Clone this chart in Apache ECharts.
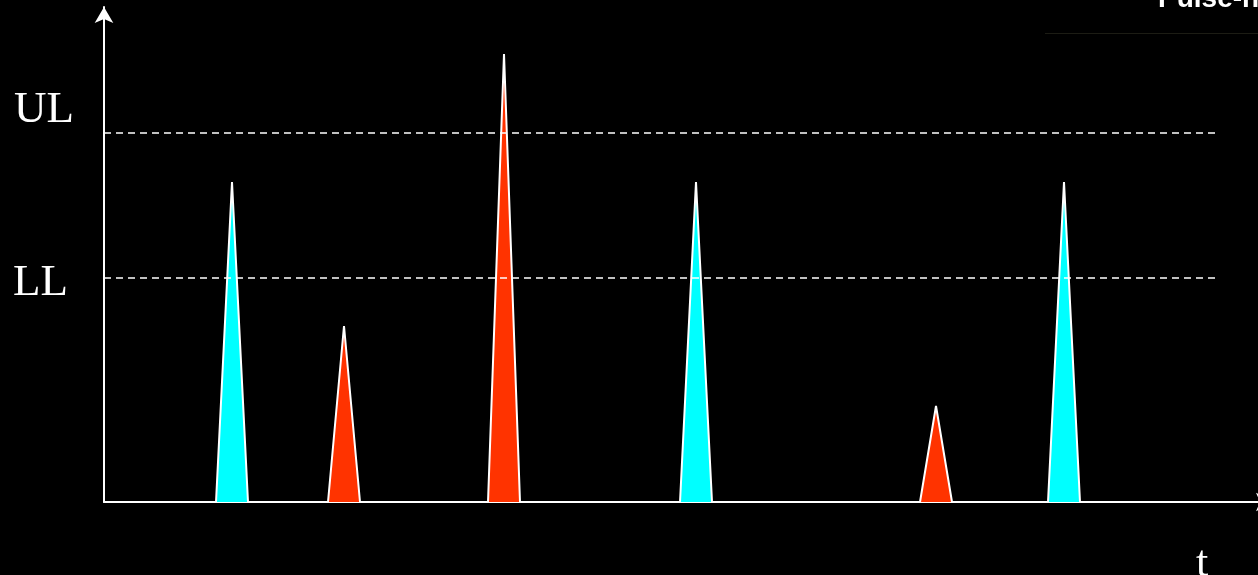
<!DOCTYPE html>
<html>
<head>
<meta charset="utf-8">
<script src="https://cdn.jsdelivr.net/npm/echarts@6/dist/echarts.min.js"></script>
<style>
html,body{margin:0;padding:0;background:#000;}
#chart{width:1258px;height:575px;}
</style>
</head>
<body>
<div id="chart"></div>
<script>
// pulse centres (time units), pulse heights and whether they pass the window
const pulseTimes   = [12.8, 24.0, 40.0, 59.2, 83.2, 96.0];
const pulseHeights = [64.0, 35.2, 89.6, 64.0, 19.2, 64.0];
const pulseAccepted = [true, false, false, true, false, true];
const pulseHalfWidth = 1.6;
const thresholdNames  = ['UL', 'LL'];
const thresholdValues = [73.8, 44.8];
const thresholdEnd = 111.4;
const axisLabelX = 't';
const axisLabelXPos = 109.2;

const CYAN = '#00FFFF', RED = '#FF3300';

const series = pulseTimes.map((c, i) => ({
  type: 'line',
  data: [[c - pulseHalfWidth, 0], [c, pulseHeights[i]], [c + pulseHalfWidth, 0]],
  symbol: 'none',
  lineStyle: { color: '#fff', width: 2 },
  areaStyle: { color: pulseAccepted[i] ? CYAN : RED, opacity: 1, origin: 'start' },
  z: 3,
  silent: true
}));

// threshold dashed lines
series.push({
  type: 'line',
  data: [],
  markLine: {
    silent: true,
    symbol: 'none',
    animation: false,
    lineStyle: { color: '#fff', type: [7, 5], width: 1.6, opacity: 1 },
    emphasis: { disabled: true },
    data: thresholdNames.map((n, i) => [
      { coord: [0, thresholdValues[i]], name: n,
        label: i === 0 ? { offset: [0, -23], distance: 30 } : { offset: [0, 5], distance: 36 } },
      { coord: [thresholdEnd, thresholdValues[i]] }
    ]),
    label: {
      show: true, position: 'start', formatter: '{b}',
      color: '#fff', fontSize: 45, fontFamily: 'Liberation Serif'
    }
  },
  z: 2
});

const chart = echarts.init(document.getElementById('chart'));
chart.setOption({
  backgroundColor: '#000',
  animation: false,
  grid: { left: 104, top: 7, width: 1168, height: 495, outerBoundsMode: 'none', containLabel: false },
  xAxis: {
    type: 'value', min: 0, max: 116.8,
    axisLine: { show: true, lineStyle: { color: '#fff', width: 2 },
      symbol: ['none', 'arrow'], symbolSize: [14, 16] },
    axisTick: { show: false }, axisLabel: { show: false }, splitLine: { show: false }
  },
  yAxis: {
    type: 'value', min: 0, max: 99,
    axisLine: { show: true, lineStyle: { color: '#fff', width: 2 },
      symbol: ['none', 'arrow'], symbolSize: [14, 16] },
    axisTick: { show: false }, axisLabel: { show: false }, splitLine: { show: false }
  },
  series: series
});

// place the axis name "t" under the right end of the time axis
const px = chart.convertToPixel({ gridIndex: 0 }, [axisLabelXPos, 0]);
chart.setOption({ graphic: [
  { type: 'text', x: 1158, y: -15,
    style: { text: 'Pulse-height', fill: '#fff', font: 'bold 28px "Liberation Sans"' } },
  { type: 'rect', x: 1045, y: 33, shape: { width: 213, height: 1 },
    style: { fill: '#1c1c14' } },
  { type: 'text', x: px[0], y: px[1] + 40,
    style: { text: axisLabelX, fill: '#fff', font: '44px "Liberation Serif"' } }
] });
</script>
</body>
</html>
